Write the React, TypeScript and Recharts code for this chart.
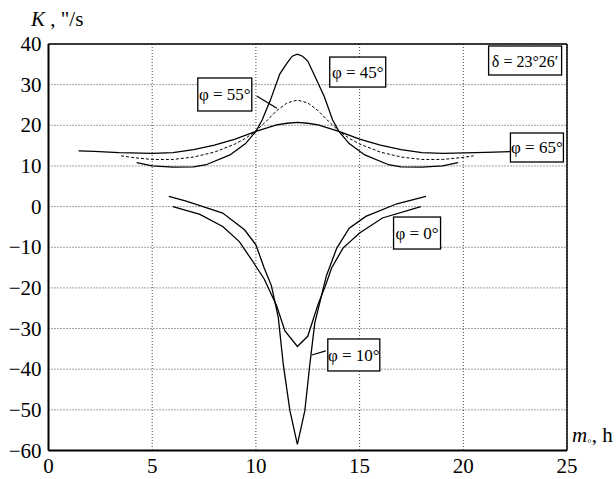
import React from "react";
import {
  LineChart,
  Line,
  XAxis,
  YAxis,
  CartesianGrid,
  ReferenceLine,
  ReferenceDot,
} from "recharts";

// hour of culmination, m0 (h)
const hours45 = [4.25, 5, 6, 7, 7.6, 8.75, 9.5, 10, 10.3, 10.7, 11.15, 11.5, 11.75, 12, 12.25, 12.5, 12.85, 13.3, 13.7, 14, 14.5, 15.25, 16.4, 17, 18, 19, 19.75];
const k45 = [10.8, 10.0, 9.7, 9.75, 10.3, 12.7, 15.5, 18.5, 21.3, 26.2, 32.6, 35.3, 37.0, 37.5, 37.0, 35.8, 32.0, 27.0, 21.3, 18.5, 15.5, 12.7, 10.3, 9.75, 9.7, 10.0, 10.8];

const hours55 = [3.5, 4, 5, 6, 7, 8, 9, 9.5, 10, 10.5, 11, 11.5, 12, 12.5, 13, 13.5, 14, 14.5, 15, 16, 17, 18, 19, 20, 20.5];
const k55 = [12.5, 12.1, 11.6, 11.6, 12.2, 13.4, 15.4, 16.8, 18.6, 21.0, 23.6, 25.5, 26.2, 25.5, 23.6, 21.0, 18.6, 16.8, 15.4, 13.4, 12.2, 11.6, 11.6, 12.1, 12.5];

const hours65 = [1.45, 2.2, 3.4, 5, 6, 7, 8, 9, 10, 11, 11.5, 12, 12.5, 13, 14, 15, 16, 17, 18, 19, 20.6, 21.5, 22.25];
const k65 = [13.7, 13.6, 13.3, 13.1, 13.3, 14.0, 15.1, 16.6, 18.5, 20.1, 20.5, 20.7, 20.5, 20.1, 18.5, 16.6, 15.1, 14.0, 13.3, 13.1, 13.3, 13.4, 13.5];

const hours0 = [6.0, 7.3, 8.4, 9.2, 9.85, 10.4, 11.0, 11.4, 12.0, 12.5, 13.0, 13.35, 13.65, 14.2, 15.0, 16.1, 17.95];
const k0 = [0, -1.9, -4.9, -8.6, -13.5, -17.8, -24.4, -30.6, -34.4, -31.9, -24.0, -19.5, -15.1, -10.2, -6.5, -2.8, 0];

const hours10 = [5.8, 6.6, 7.45, 8.4, 9.45, 10.0, 10.4, 10.75, 11.08, 11.32, 11.64, 12.0, 12.36, 12.6, 12.84, 13.4, 13.9, 14.5, 15.3, 16.8, 18.2];
const k10 = [2.5, 1.4, 0, -1.6, -5.7, -9.4, -15.1, -19.5, -27.3, -38.8, -50.2, -58.5, -50.2, -38.8, -28.6, -17.0, -10.2, -5.3, -2.4, 0.7, 2.5];

const xTicks = [0, 5, 10, 15, 20, 25];
const yTicks = [-60, -50, -40, -30, -20, -10, 0, 10, 20, 30, 40];

const zip = (m: number[], k: number[]) => m.map((v, i) => ({ m: v, K: k[i] }));

const FONT = "'Liberation Serif', 'Times New Roman', serif";
const serif = { fontFamily: FONT };

const boxShape = (text: string, w: number, h: number, size = 17) => (props: any) => {
  const { cx, cy } = props;
  return (
    <g>
      <rect x={cx - w / 2} y={cy - h / 2} width={w} height={h} fill="#fff" stroke="#000" strokeWidth={1.3} />
      <text x={cx} y={cy + 6} textAnchor="middle" style={serif} fontSize={size} fill="#000">
        {text}
      </text>
    </g>
  );
};

const fmtY = (v: number) => (v < 0 ? "\u2212" + Math.abs(v) : String(v));

const XTick = (props: any) => {
  const { x, y, payload } = props;
  return (
    <text x={x} y={y + 14} textAnchor="middle" style={serif} fontSize={21} fill="#000">
      {payload.value}
    </text>
  );
};

const YTick = (props: any) => {
  const { x, y, payload } = props;
  return (
    <text x={x + 1} y={y + 7} textAnchor="end" style={serif} fontSize={21} fill="#000">
      {fmtY(payload.value)}
    </text>
  );
};

const App = () => {
  return (
    <div style={{ position: "absolute", left: 0, top: 0 }}>
      <LineChart
        width={616}
        height={479}
        margin={{ top: 44, right: 49, bottom: 0, left: 0 }}
      >
        <CartesianGrid stroke="#444" strokeDasharray="1 2" strokeWidth={1} />
        <XAxis
          type="number"
          dataKey="m"
          domain={[0, 25]}
          ticks={xTicks}
          allowDataOverflow
          height={28.5}
          tickLine={false}
          axisLine={{ stroke: "#000", strokeWidth: 2 }}
          tick={<XTick />}
          label={{
            content: (p: any) => {
              const vb = p.viewBox;
              return (
                <text x={vb.x + vb.width + 5} y={vb.y - 9} style={serif} fontSize={21} fill="#000">
                  <tspan fontStyle="italic">m</tspan>
                  <tspan fontSize={13} dy={3}>{"\u25E6"}</tspan>
                  <tspan dy={-3}>, h</tspan>
                </text>
              );
            },
          }}
        />
        <YAxis
          type="number"
          dataKey="K"
          domain={[-60, 40]}
          ticks={yTicks}
          allowDataOverflow
          width={48.5}
          tickLine={false}
          axisLine={{ stroke: "#000", strokeWidth: 2 }}
          tick={<YTick />}
          label={{
            content: () => (
              <text x={31} y={26} style={serif} fontSize={21} fill="#000">
                <tspan fontStyle="italic">K</tspan>
                <tspan>{' , "/s'}</tspan>
              </text>
            ),
          }}
        />
        <ReferenceLine y={40} stroke="#000" strokeWidth={1.5} />
        <ReferenceLine x={25} stroke="#000" strokeWidth={1.5} />

        <Line data={zip(hours65, k65)} dataKey="K" type="linear" stroke="#000" strokeWidth={1.3} dot={false} isAnimationActive={false} />
        <Line data={zip(hours55, k55)} dataKey="K" type="linear" stroke="#000" strokeWidth={1} strokeDasharray="3 2" dot={false} isAnimationActive={false} />
        <Line data={zip(hours45, k45)} dataKey="K" type="linear" stroke="#000" strokeWidth={1.3} dot={false} isAnimationActive={false} />
        <Line data={zip(hours0, k0)} dataKey="K" type="linear" stroke="#000" strokeWidth={1.3} dot={false} isAnimationActive={false} />
        <Line data={zip(hours10, k10)} dataKey="K" type="linear" stroke="#000" strokeWidth={1.3} dot={false} isAnimationActive={false} />

        <ReferenceLine segment={[{ x: 10.04, y: 27.2 }, { x: 11.01, y: 24.2 }]} stroke="#000" strokeWidth={1.2} />
        <ReferenceLine segment={[{ x: 12.69, y: -36.5 }, { x: 13.37, y: -35.5 }]} stroke="#000" strokeWidth={1.2} />

        <ReferenceDot x={22.98} y={35.94} shape={boxShape("\u03B4 = 23\u00B026\u2032", 73, 29, 16)} />
        <ReferenceDot x={14.91} y={33.1} shape={boxShape("\u03C6 = 45\u00B0", 56, 30)} />
        <ReferenceDot x={8.5} y={27.58} shape={boxShape("\u03C6 = 55\u00B0", 54, 33)} />
        <ReferenceDot x={23.55} y={14.54} shape={boxShape("\u03C6 = 65\u00B0", 53, 29)} />
        <ReferenceDot x={17.77} y={-6.5} shape={boxShape("\u03C6 = 0\u00B0", 47, 32)} />
        <ReferenceDot x={14.72} y={-36.5} shape={boxShape("\u03C6 = 10\u00B0", 52, 32)} />
      </LineChart>
    </div>
  );
};

export default App;
